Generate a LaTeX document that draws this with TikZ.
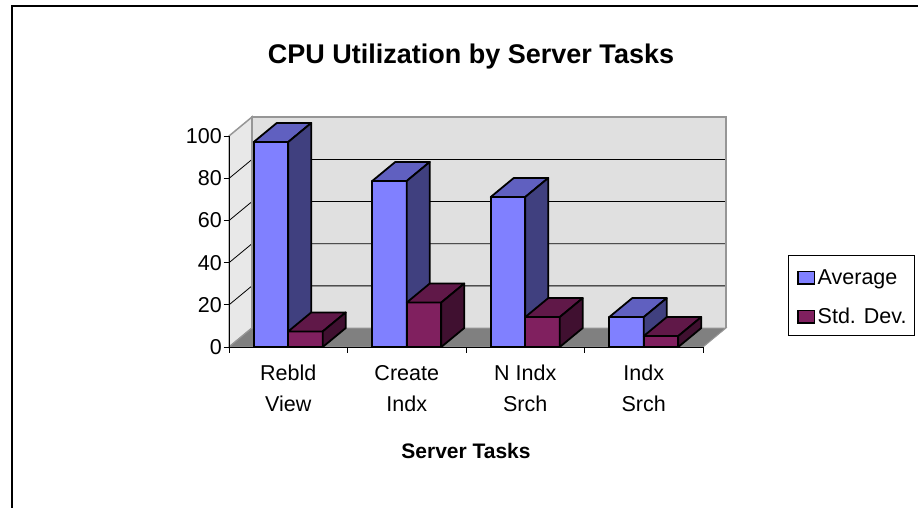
\documentclass[tikz,border=0pt]{standalone}
\usepackage{fontspec}
\setmainfont{Liberation Sans}
\definecolor{avgfront}{HTML}{8080FF}
\definecolor{avgtop}{HTML}{6060C0}
\definecolor{avgside}{HTML}{40407F}
\definecolor{stdfront}{HTML}{80205F}
\definecolor{stdtop}{HTML}{601848}
\definecolor{stdside}{HTML}{401030}
\definecolor{backwall}{HTML}{E0E0E0}
\definecolor{sidewall}{HTML}{E8E8E8}
\definecolor{floorgray}{HTML}{808080}
\definecolor{walledge}{HTML}{969696}
\newcommand\cbar[5]{%
  \pgfmathsetmacro\ytop{347-2.107*#2}%
  \filldraw[barline,fill=#3] (#1,347) rectangle ({#1+34.5},\ytop);
  \filldraw[barline,fill=#4] (#1,\ytop) -- ({#1+34.5},\ytop) -- ({#1+57.5},{\ytop-19}) -- ({#1+23},{\ytop-19}) -- cycle;
  \filldraw[barline,fill=#5] ({#1+34.5},347) -- ({#1+34.5},\ytop) -- ({#1+57.5},{\ytop-19}) -- ({#1+57.5},328) -- cycle;
}
\tikzset{
  barline/.style={draw=black,line width=1.8pt,line join=round},
  grid/.style={draw=black,line width=0.8pt},
  lbl/.style={font=\fontsize{21.5}{24}\selectfont,inner sep=0pt},
  ylbl/.style={lbl,anchor=east},
  xlbl/.style={lbl,anchor=base},
}
\begin{document}
\begin{tikzpicture}[x=1pt,y=-1pt]
\useasboundingbox (0,0) rectangle (918,508);
\clip (0,0) rectangle (918,508);
% outer frame
\draw[line width=2pt] (12,6) rectangle (940,530);
% title
\node[font=\bfseries\fontsize{27}{30}\selectfont,anchor=base,inner sep=0pt] (title) at (471,63.3) {CPU Utilization by Server Tasks};
% walls
\filldraw[fill=sidewall,draw=walledge,line width=1.5pt] (229,347) -- (229,136) -- (252,117) -- (252,328) -- cycle;
\fill[backwall] (252,328) rectangle (726,117);
\foreach \v in {20,40,60,80}{
  \draw[grid] (229,{347-2.107*\v}) -- (252,{328-2.107*\v}) -- (726,{328-2.107*\v});
}
\draw[walledge,line width=2.5pt] (252,328) -- (252,117) -- (726,117) -- (726,328);
% floor
\filldraw[fill=floorgray,draw=walledge,line width=1pt] (229,347) -- (703,347) -- (726,328) -- (252,328) -- cycle;
% axes
\draw[line width=1pt] (229,347) -- (229,136);
\draw[line width=1pt] (229,347) -- (703,347);
\foreach \v in {0,20,40,60,80,100}{
  \draw[line width=1pt] (223.5,{347-2.107*\v}) -- (229,{347-2.107*\v});
}
\foreach \x in {229,347.5,466,584.5,703}{
  \draw[line width=1pt] (\x,347) -- (\x,353);
}
% y labels
\node[ylbl] (y0) at (222,{347}) {0};
\node[ylbl] (y20) at (222,{347-2.107*20}) {20};
\node[ylbl] (y40) at (222,{347-2.107*40}) {40};
\node[ylbl] (y60) at (222,{347-2.107*60}) {60};
\node[ylbl] (y80) at (222,{347-2.107*80}) {80};
\node[ylbl] (y100) at (222,{347-2.107*100}) {100};
% bars
\cbar{253.75}{97.3}{avgfront}{avgtop}{avgside}
\cbar{288.25}{7.4}{stdfront}{stdtop}{stdside}
\cbar{372.25}{78.8}{avgfront}{avgtop}{avgside}
\cbar{406.75}{21.1}{stdfront}{stdtop}{stdside}
\cbar{490.75}{71.2}{avgfront}{avgtop}{avgside}
\cbar{525.25}{14.2}{stdfront}{stdtop}{stdside}
\cbar{609.25}{14.2}{avgfront}{avgtop}{avgside}
\cbar{643.75}{5.2}{stdfront}{stdtop}{stdside}
% category labels
\node[xlbl] (c1a) at (288.25,380) {Rebld};
\node[xlbl] (c1b) at (288.25,411.7) {View};
\node[xlbl] (c2a) at (406.75,380) {Create};
\node[xlbl] (c2b) at (406.75,411.7) {Indx};
\node[xlbl] (c3a) at (525.25,380) {N Indx};
\node[xlbl] (c3b) at (525.25,411.7) {Srch};
\node[xlbl] (c4a) at (643.75,380) {Indx};
\node[xlbl] (c4b) at (643.75,411.7) {Srch};
% axis title
\node[lbl,font=\bfseries\fontsize{21}{24}\selectfont,anchor=base] (xtitle) at (466,458.3) {Server Tasks};
% legend
\draw[line width=1pt] (788,255) rectangle (914,335);
\filldraw[fill=avgfront,draw=black,line width=1.8pt] (798,271.5) rectangle (814.5,284);
\filldraw[fill=stdfront,draw=black,line width=1.8pt] (798,310.5) rectangle (814.5,323);
\node[lbl,anchor=base west] (lavg) at (817.5,284.3) {Average};
\node[lbl,anchor=base west] (lstd) at (817.5,323.3) {Std. Dev.};
\end{tikzpicture}
\end{document}
